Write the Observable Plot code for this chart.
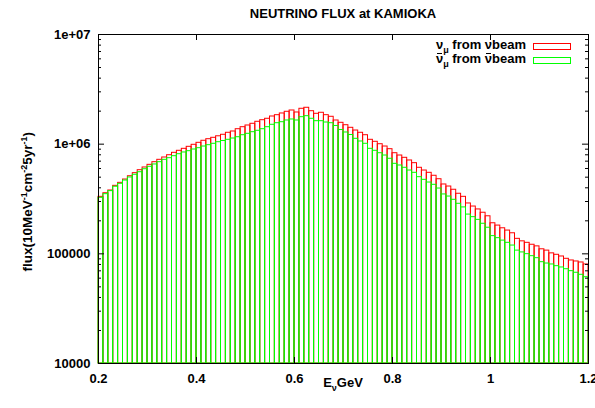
<!DOCTYPE html>
<html><head><meta charset="utf-8">
<script src="https://cdn.jsdelivr.net/npm/d3@7"></script>
<script src="https://cdn.jsdelivr.net/npm/@observablehq/plot@0.6"></script>
<style>
body{margin:0;background:#fff;}
#wrap{position:relative;width:595px;height:408px;font-family:"Liberation Sans",Arial,sans-serif;font-weight:bold;font-size:13px;color:#000;overflow:hidden;}
.abs{position:absolute;white-space:nowrap;line-height:1;}
.abs sub,.abs sup{font-size:9px;line-height:0;}
.bar{position:relative;display:inline-block;}
.bar::before{content:"";position:absolute;left:1px;right:1px;top:1px;border-top:1px solid #000;}
.box{position:absolute;box-sizing:border-box;background:#fff;}
</style></head><body>
<div id="wrap">
<div id="chart"></div>
<div class="abs" id="title" style="left:143px;width:400px;top:7px;text-align:center;">NEUTRINO FLUX at KAMIOKA</div>
<div class="abs" id="leg1" style="right:69px;top:38px;text-align:right;">ν<sub>μ</sub> from νbeam</div>
<div class="abs" id="leg2" style="right:69px;top:52px;text-align:right;"><span class="bar">ν</span><sub>μ</sub> from <span class="bar">ν</span>beam</div>
<div class="box" style="left:533px;top:43px;width:38px;height:7px;border:1px solid #ff0000;"></div>
<div class="box" style="left:533px;top:57px;width:38px;height:7px;border:1px solid #00ff00;"></div>
<div class="abs" id="ylab" style="left:-72px;top:195px;width:200px;text-align:center;transform:rotate(-90deg);font-size:13.5px;">flux(10MeV<sup>-1</sup>cm<sup>-2</sup>5yr<sup>-1</sup>)</div>
<div class="abs" id="xlab" style="left:243px;width:200px;top:376px;text-align:center;">E<sub>ν</sub>GeV</div>
</div>
<script>
const binStart = [0.20,0.21,0.22,0.23,0.24,0.25,0.26,0.27,0.28,0.29,
0.30,0.31,0.32,0.33,0.34,0.35,0.36,0.37,0.38,0.39,
0.40,0.41,0.42,0.43,0.44,0.45,0.46,0.47,0.48,0.49,
0.50,0.51,0.52,0.53,0.54,0.55,0.56,0.57,0.58,0.59,
0.60,0.61,0.62,0.63,0.64,0.65,0.66,0.67,0.68,0.69,
0.70,0.71,0.72,0.73,0.74,0.75,0.76,0.77,0.78,0.79,
0.80,0.81,0.82,0.83,0.84,0.85,0.86,0.87,0.88,0.89,
0.90,0.91,0.92,0.93,0.94,0.95,0.96,0.97,0.98,0.99,
1.00,1.01,1.02,1.03,1.04,1.05,1.06,1.07,1.08,1.09,
1.10,1.11,1.12,1.13,1.14,1.15,1.16,1.17,1.18,1.19];
const binWidth = 0.01;

const numuFromNuBeam = [331000,357000,378000,417000,444000,476000,510000,544000,579000,613000,
648000,685000,720000,756000,793000,834000,870000,907000,946000,987000,
1029000,1074000,1110000,1143000,1180000,1218000,1270000,1305000,1369000,1428000,
1480000,1534000,1600000,1654000,1704000,1788000,1838000,1905000,1974000,2028000,
1945000,2102000,2147000,1998000,1892000,1933000,1838000,1777000,1644000,1566000,
1489000,1410000,1332000,1270000,1207000,1096000,1051000,999000,952000,900000,
827000,788000,751000,710000,671000,609000,575000,548000,515000,479000,
429000,411000,384000,353000,331000,288000,270000,254000,237000,220000,
190000,181000,171000,163000,154000,137000,130000,126000,121000,117000,
110000,107000,101000,98000,94600,90100,87000,85200,83400,80000];

const numubarFromNubarBeam = [324000,350000,373000,409000,435000,466000,497000,526000,555000,591000,
622000,653000,685000,720000,745000,777000,810000,840000,863000,894000,
919000,952000,979000,1008000,1042000,1069000,1096000,1126000,1157000,1207000,
1243000,1286000,1324000,1369000,1428000,1502000,1553000,1586000,1644000,1679000,
1644000,1762000,1800000,1704000,1620000,1620000,1576000,1553000,1465000,1347000,
1278000,1212000,1119000,1058000,1008000,907000,870000,827000,788000,736000,
662000,639000,609000,575000,548000,500000,473000,447000,426000,394000,
348000,333000,311000,286000,265000,228000,216000,204000,188000,173000,
145000,139000,132000,126000,119000,107000,103000,99300,95200,91300,
83900,81600,80000,77200,75100,72400,69500,67200,64400,61200];

const xTicks = [0.2,0.4,0.6,0.8,1.0,1.2];
const xTickLabels = ["0.2","0.4","0.6","0.8","1","1.2"];
const yTicks = [1e4,1e5,1e6,1e7];
const yTickLabels = ["10000","100000","1e+06","1e+07"];
const yMinor = [2e4,3e4,4e4,5e4,6e4,7e4,8e4,9e4,2e5,3e5,4e5,5e5,6e5,7e5,8e5,9e5,2e6,3e6,4e6,5e6,6e6,7e6,8e6,9e6];
const yFloor = 1e4;

const W = 595, H = 408, mL = 98, mR = 7, mT = 34, mB = 45;
const innerW = W - mL - mR, innerH = H - mT - mB;
const redColor = "#ff0000", greenColor = "#00ff00";

const redData = binStart.map((x, i) => ({x1: x, x2: x + binWidth, v: numuFromNuBeam[i]}));
const greenData = binStart.map((x, i) => ({x1: x, x2: x + binWidth, v: numubarFromNubarBeam[i]}));

const chart = Plot.plot({
  width: W, height: H,
  marginLeft: mL, marginRight: mR, marginTop: mT, marginBottom: mB,
  style: {fontFamily: "'Liberation Sans', Arial, sans-serif", fontSize: "13px", fontWeight: "bold", background: "white", color: "black"},
  x: {domain: [0.2, 1.2]},
  y: {type: "log", domain: [1e4, 1e7]},
  marks: [
    Plot.rect(redData, {x1: "x1", x2: "x2", y1: () => yFloor, y2: "v", fill: "none", stroke: redColor, strokeWidth: 1}),
    Plot.rect(greenData, {x1: "x1", x2: "x2", y1: () => yFloor, y2: "v", fill: "none", stroke: greenColor, strokeWidth: 1}),
    Plot.frame({stroke: "black", strokeWidth: 1}),
    Plot.ruleX(xTicks, {x: d => d, insetTop: innerH - 6, stroke: "black"}),
    Plot.ruleX(xTicks, {x: d => d, insetBottom: innerH - 6, stroke: "black"}),
    Plot.ruleY(yTicks, {y: d => d, insetRight: innerW - 6, stroke: "black"}),
    Plot.ruleY(yTicks, {y: d => d, insetLeft: innerW - 6, stroke: "black"}),
    Plot.ruleY(yMinor, {y: d => d, insetRight: innerW - 3, stroke: "black"}),
    Plot.ruleY(yMinor, {y: d => d, insetLeft: innerW - 3, stroke: "black"}),
    Plot.axisX({ticks: xTicks, tickFormat: d => xTickLabels[xTicks.indexOf(d)], tickSize: 0, tickPadding: 10, label: null, fontSize: 13, fontWeight: "bold"}),
    Plot.axisY({ticks: yTicks, tickFormat: d => yTickLabels[yTicks.indexOf(d)], tickSize: 0, tickPadding: 8, label: null, fontSize: 13, fontWeight: "bold"})
  ]
});
document.getElementById("chart").appendChild(chart);
</script>
</body></html>
